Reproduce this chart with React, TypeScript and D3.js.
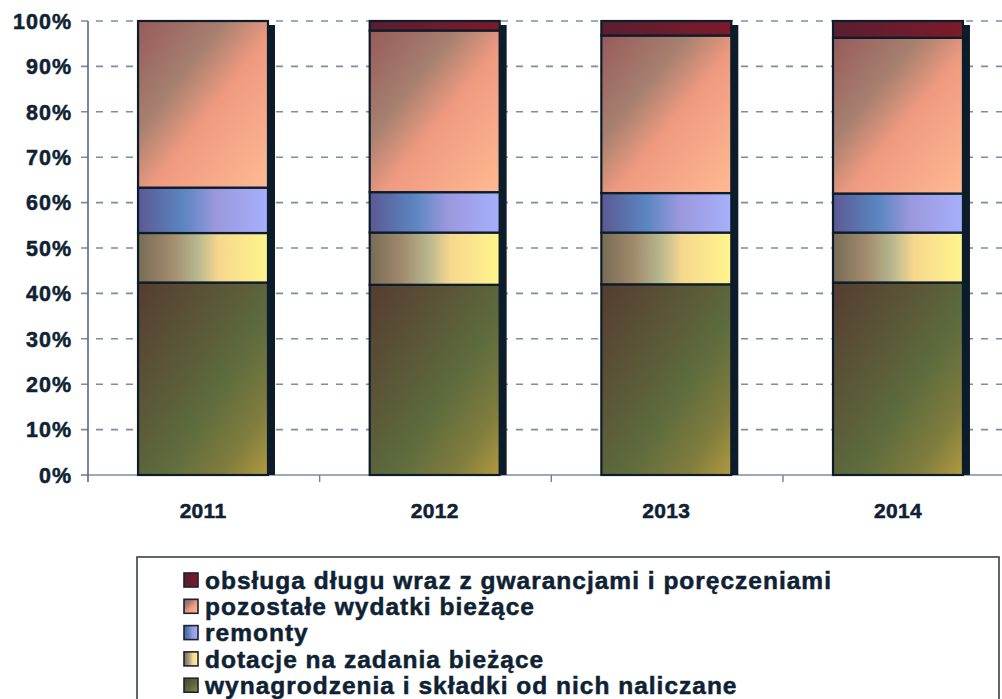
import React from "react";
import * as d3 from "d3";

const years = ["2011", "2012", "2013", "2014"];
// values in percent, bottom to top
const wynagrodzenia = [42.4, 41.9, 42.0, 42.4];
const dotacje = [10.9, 11.5, 11.4, 11.0];
const remonty = [10.0, 8.9, 8.7, 8.6];
const pozostale = [36.7, 35.6, 34.7, 34.3];
const obsluga = [0.0, 2.1, 3.2, 3.7];
const yTicks = [0, 10, 20, 30, 40, 50, 60, 70, 80, 90, 100];

const seriesKeys = ["wyn", "dot", "rem", "poz", "obs"];
const seriesLabels: Record<string, string> = {
  obs: "obsługa długu wraz z gwarancjami i poręczeniami",
  poz: "pozostałe wydatki bieżące",
  rem: "remonty",
  dot: "dotacje na zadania bieżące",
  wyn: "wynagrodzenia i składki od nich naliczane",
};
const legendOrder = ["obs", "poz", "rem", "dot", "wyn"];

const W = 1002;
const H = 699;
const TXT = "#0f2233";
const FONT = "'Liberation Sans', Arial, sans-serif";

export default function App() {
  const x = d3
    .scaleBand<string>()
    .domain(years)
    .range([88, 1013])
    .paddingInner(0.439)
    .paddingOuter(0.216);
  const y = d3.scaleLinear().domain([0, 100]).range([475, 21]);

  const rows = years.map((yr, i) => ({
    year: yr,
    wyn: wynagrodzenia[i],
    dot: dotacje[i],
    rem: remonty[i],
    poz: pozostale[i],
    obs: obsluga[i],
  }));
  const stack = d3.stack<any>().keys(seriesKeys);
  const stacked = stack(rows);

  const step = x.step();
  const bw = x.bandwidth();

  return (
    <svg
      width={W}
      height={H}
      style={{ position: "absolute", left: 0, top: 0, background: "#fff" }}
    >
      <defs>
        <linearGradient id="g-wyn" x1="0" y1="0" x2="1" y2="1">
          <stop offset="0" stopColor="#553c30" />
          <stop offset="0.3" stopColor="#5a5436" />
          <stop offset="0.58" stopColor="#5d6b3d" />
          <stop offset="0.82" stopColor="#807d3e" />
          <stop offset="1" stopColor="#b29a40" />
        </linearGradient>
        <linearGradient id="g-dot" x1="0" y1="0" x2="1" y2="0">
          <stop offset="0" stopColor="#776c55" />
          <stop offset="0.25" stopColor="#a18a6c" />
          <stop offset="0.45" stopColor="#b6b68e" />
          <stop offset="0.62" stopColor="#f6d78e" />
          <stop offset="1" stopColor="#fff58c" />
        </linearGradient>
        <linearGradient id="g-rem" x1="0" y1="0" x2="1" y2="0">
          <stop offset="0" stopColor="#5b5994" />
          <stop offset="0.35" stopColor="#5b86c0" />
          <stop offset="0.6" stopColor="#9a98de" />
          <stop offset="1" stopColor="#a7b0fb" />
        </linearGradient>
        <linearGradient id="g-poz" x1="0" y1="0" x2="1" y2="1">
          <stop offset="0" stopColor="#985a5a" />
          <stop offset="0.33" stopColor="#a6806f" />
          <stop offset="0.55" stopColor="#ef9a80" />
          <stop offset="1" stopColor="#ffba92" />
        </linearGradient>
        <linearGradient id="g-obs" x1="0" y1="0" x2="1" y2="0">
          <stop offset="0" stopColor="#5a1e30" />
          <stop offset="1" stopColor="#7c1a2a" />
        </linearGradient>
      </defs>

      {/* gridlines */}
      {yTicks.slice(1).map((t) => (
        <line
          key={"g" + t}
          x1={81}
          x2={W}
          y1={y(t)}
          y2={y(t)}
          stroke="#7d8ca2"
          strokeWidth={1.6}
          strokeDasharray="7 8"
        />
      ))}
      {/* y tick at 0 */}
      <line x1={81} x2={88} y1={y(0)} y2={y(0)} stroke="#6f7f96" strokeWidth={1.6} />

      {/* x axis */}
      <line x1={88} x2={W} y1={y(0)} y2={y(0)} stroke="#7d8ca2" strokeWidth={1.6} />
      {years.map((yr, i) => (
        <line
          key={"xt" + yr}
          x1={88 + step * (i + 1)}
          x2={88 + step * (i + 1)}
          y1={y(0)}
          y2={y(0) + 7}
          stroke="#6f7f96"
          strokeWidth={1.4}
        />
      ))}
      {/* y axis */}
      <line x1={88} x2={88} y1={y(100)} y2={y(0) + 7} stroke="#5c6a80" strokeWidth={1.6} />

      {/* y labels */}
      {yTicks.map((t) => (
        <text
          key={"yl" + t}
          x={72}
          y={y(t)}
          dy="0.36em"
          textAnchor="end"
          fontFamily={FONT}
          fontWeight="bold"
          fontSize={21.5}
          letterSpacing={1}
          fill={TXT}
          stroke={TXT}
          strokeWidth={0.5}
        >
          {t}%
        </text>
      ))}

      {/* shadows */}
      {years.map((yr) => (
        <rect
          key={"sh" + yr}
          x={(x(yr) as number) + bw}
          y={y(100) + 4}
          width={7}
          height={y(0) - y(100) - 4}
          fill="#0c1c2a"
        />
      ))}

      {/* bars */}
      {stacked.map((s) => (
        <g key={s.key}>
          {s.map((d, i) => {
            const h = y(d[0]) - y(d[1]);
            if (h <= 0.01) return null;
            return (
              <rect
                key={s.key + i}
                x={x(years[i]) as number}
                y={y(d[1])}
                width={bw}
                height={h}
                fill={`url(#g-${s.key})`}
                stroke="#0c1c2a"
                strokeWidth={2.2}
              />
            );
          })}
        </g>
      ))}

      {/* x labels */}
      {years.map((yr) => (
        <text
          key={"xl" + yr}
          x={(x(yr) as number) + bw / 2}
          y={510}
          dy="0.36em"
          textAnchor="middle"
          fontFamily={FONT}
          fontWeight="bold"
          fontSize={21}
          letterSpacing={0.3}
          fill={TXT}
          stroke={TXT}
          strokeWidth={0.5}
        >
          {yr}
        </text>
      ))}

      {/* legend */}
      <rect x={137} y={557} width={862} height={170} fill="none" stroke="#3a4048" strokeWidth={1.6} />
      {legendOrder.map((k, i) => {
        const cy = 580 + i * 26.3;
        return (
          <g key={"lg" + k}>
            <rect
              x={184}
              y={cy - 7}
              width={14}
              height={14}
              fill={`url(#g-${k})`}
              stroke="#1a2430"
              strokeWidth={1.6}
            />
            <text
              x={205}
              y={cy}
              dy="0.36em"
              fontFamily={FONT}
              fontWeight="bold"
              fontSize={24.5}
              letterSpacing={1}
              fill={TXT}
              stroke={TXT}
              strokeWidth={0.5}
            >
              {seriesLabels[k]}
            </text>
          </g>
        );
      })}
    </svg>
  );
}
